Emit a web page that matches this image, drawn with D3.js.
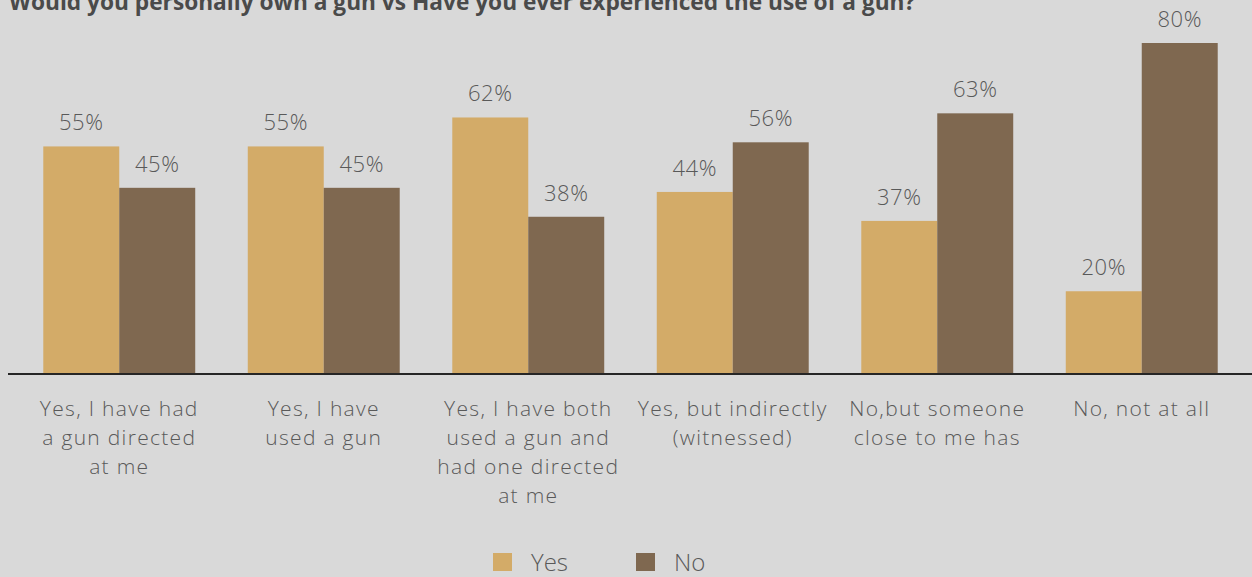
<!DOCTYPE html>
<html><head><meta charset="utf-8">
<script src="https://cdn.jsdelivr.net/npm/d3@7"></script>
<style>
html,body{margin:0;padding:0;background:#d9d9d9;}
svg{display:block;font-family:"Open Sans",sans-serif;}
</style></head>
<body>
<svg id="chart" width="1252" height="577"></svg>
<script>
const title = "Would you personally own a gun vs Have you ever experienced the use of a gun?";
const categories = [
  "Yes, I have had\na gun directed\nat me",
  "Yes, I have\nused a gun",
  "Yes, I have both\nused a gun and\nhad one directed\nat me",
  "Yes, but indirectly\n(witnessed)",
  "No,but someone\nclose to me has",
  "No, not at all"
];
const seriesNames = ["Yes", "No"];
const yesValues = [55, 55, 62, 44, 37, 20];
const noValues = [45, 45, 38, 56, 63, 80];
const colors = ["#d3ab68", "#7f6850"];

const svg = d3.select("#chart");
const W = 1252, H = 577;
svg.append("rect").attr("width", W).attr("height", H).attr("fill", "#d9d9d9");

const x0 = d3.scaleBand().domain(categories).range([17, 1244]).paddingInner(0.257).paddingOuter(0.1285);
const x1 = d3.scaleBand().domain(seriesNames).range([0, x0.bandwidth()]);
const y = d3.scaleLinear().domain([0, 80]).range([374, 43]);
const color = d3.scaleOrdinal().domain(seriesNames).range(colors);

const data = categories.map((c, i) => ({cat: c, vals: [
  {s: "Yes", v: yesValues[i]}, {s: "No", v: noValues[i]}]}));

const g = svg.append("g").selectAll("g").data(data).join("g")
  .attr("transform", d => `translate(${x0(d.cat)},0)`);
g.selectAll("rect").data(d => d.vals).join("rect")
  .attr("x", d => x1(d.s)).attr("width", x1.bandwidth())
  .attr("y", d => y(d.v)).attr("height", d => y(0) - y(d.v))
  .attr("fill", d => color(d.s));
g.selectAll("text.val").data(d => d.vals).join("text").attr("class", "val")
  .attr("x", d => x1(d.s) + x1.bandwidth() / 2)
  .attr("y", d => y(d.v) - 16)
  .attr("text-anchor", "middle").attr("font-size", 22).attr("font-weight", 300)
  .attr("letter-spacing", 0.6).attr("fill", "#595959")
  .text(d => d.v + "%");

// axis
const xAxis = d3.axisBottom(x0).tickSize(0).tickFormat("");
const ax = svg.append("g").attr("transform", "translate(0,374)").call(xAxis);
ax.select(".domain").remove();
svg.append("line").attr("x1", 8).attr("x2", 1252).attr("y1", 374).attr("y2", 374)
  .attr("stroke", "#262626").attr("stroke-width", 2.2);

ax.selectAll(".tick").each(function(d) {
  const t = d3.select(this).append("text").attr("text-anchor", "middle")
    .attr("font-size", 21).attr("font-weight", 300).attr("letter-spacing", 1.3)
    .attr("fill", "#595959").attr("font-family", "Open Sans, sans-serif");
  d.split("\n").forEach((line, i) => {
    t.append("tspan").attr("x", 0).attr("y", 42 + i * 29).text(line);
  });
});

// title
svg.append("text").attr("x", 9).attr("y", 10).attr("font-size", 22.7).attr("font-weight", "bold")
  .attr("fill", "#4a4a4a").text(title);

// legend
const leg = svg.append("g").selectAll("g").data(seriesNames).join("g")
  .attr("transform", (d, i) => `translate(${493 + i * 143},553)`);
leg.append("rect").attr("width", 19).attr("height", 18).attr("fill", d => color(d));
leg.append("text").attr("x", 38).attr("y", 18).attr("font-size", 24).attr("font-weight", 300)
  .attr("fill", "#595959").text(d => d);
</script>
</body></html>
